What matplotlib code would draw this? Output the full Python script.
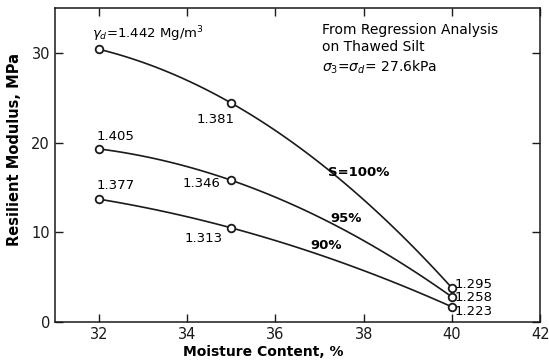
import numpy as np
import matplotlib.pyplot as plt

#%% data
moisture = [32, 35, 40]
modulus_100 = [30.4, 24.4, 3.8]   # S=100%
modulus_95 = [19.3, 15.8, 2.8]    # 95%
modulus_90 = [13.7, 10.5, 1.7]    # 90%

density_100 = ['1.442', '1.381', '1.295']
density_95 = ['1.405', '1.346', '1.258']
density_90 = ['1.377', '1.313', '1.223']

x_ticks = [32, 34, 36, 38, 40, 42]
y_ticks = [0, 10, 20, 30]

#%% plot
plt.rcParams['font.family'] = ['DejaVu Sans']
fig = plt.figure(figsize=(5.49, 3.64), dpi=100)
ax = fig.add_axes([0.100, 0.115, 0.884, 0.863])

xs = np.linspace(32, 40, 100)
for ys in [modulus_100, modulus_95, modulus_90]:
    coef = np.polyfit(moisture, ys, 2)
    ax.plot(xs, np.polyval(coef, xs), color='#1a1a1a', linewidth=1.2)
    ax.plot(moisture, ys, 'o', markersize=5.5, markerfacecolor='white',
            markeredgecolor='#1a1a1a', markeredgewidth=1.3)

ax.set_xlim(31, 42)
ax.set_ylim(0, 35)
ax.set_xticks(x_ticks)
ax.set_yticks(y_ticks)
ax.tick_params(direction='in', top=True, right=True, length=6, width=1,
               labelsize=10.5, colors='#1a1a1a')
for sp in ax.spines.values():
    sp.set_linewidth(1.1)
    sp.set_color('#1a1a1a')

fs = 9.5
# density labels
ax.text(31.85, 31.6, r'$\gamma_d$=' + density_100[0] + r' Mg/m$^3$', fontsize=fs)
ax.text(34.2, 22.2, density_100[1], fontsize=fs)
ax.text(40.05, 4.2, density_100[2], fontsize=fs, va='center')
ax.text(31.95, 20.3, density_95[0], fontsize=fs)
ax.text(33.9, 15.1, density_95[1], fontsize=fs)
ax.text(40.05, 2.75, density_95[2], fontsize=fs, va='center')
ax.text(31.95, 14.8, density_90[0], fontsize=fs)
ax.text(33.95, 8.9, density_90[1], fontsize=fs)
ax.text(40.05, 1.2, density_90[2], fontsize=fs, va='center')

# saturation labels
ax.text(37.2, 16.3, 'S=100%', fontsize=fs, fontweight='bold')
ax.text(37.25, 11.2, '95%', fontsize=fs, fontweight='bold')
ax.text(36.8, 8.2, '90%', fontsize=fs, fontweight='bold')

# note
ax.text(37.05, 32.5, 'From Regression Analysis', fontsize=10, va='center')
ax.text(37.05, 30.6, 'on Thawed Silt', fontsize=10, va='center')
ax.text(37.05, 28.4, r'$\sigma_3$=$\sigma_d$= 27.6kPa', fontsize=10, va='center')

ax.set_xlabel('Moisture Content, %', fontsize=10, fontweight='bold')
ax.xaxis.set_label_coords(0.43, -0.072)
ax.set_ylabel('Resilient Modulus, MPa', fontsize=10.5, fontweight='bold')
ax.yaxis.set_label_coords(-0.067, 0.548)

plt.savefig('out.png', dpi=100)
